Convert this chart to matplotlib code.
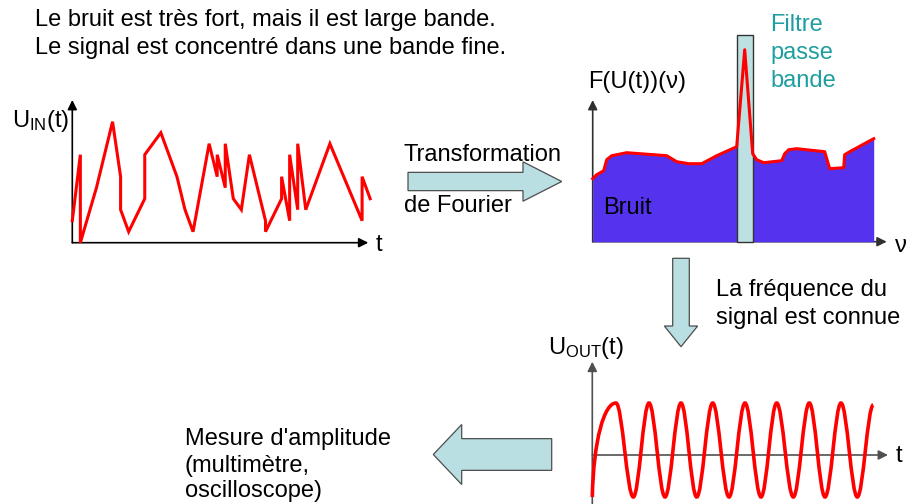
import matplotlib
matplotlib.use('Agg')
import matplotlib.pyplot as plt
from matplotlib.path import Path
from matplotlib.patches import PathPatch, Rectangle, FancyArrow

W, H = 907, 504

# noisy input signal U_IN(t) (time / amplitude in arbitrary units)
T_IN = [0, 1, 1, 3, 5, 6, 6, 7, 9, 9, 11, 13, 14, 15, 17, 18, 18, 19, 19, 20,
        21, 22, 24, 24, 26, 26, 27, 27, 28, 28, 29, 32, 36, 36, 37]
U_IN = [2, 8, 0, 5, 11, 6, 3, 1, 4, 8, 10, 6, 3, 1, 9, 6, 8, 5, 9, 4,
        3, 8, 2, 1, 4, 6, 2, 8, 3, 9, 3, 9, 2, 6, 4]

# spectrum F(U(t))(nu)
NU = [0, 0.4, 1.1, 1.4, 1.9, 3.4, 7.4, 8.4, 9.6, 10.9, 12.4, 14.4, 15.2, 16.0,
      16.4, 17.1, 18.9, 19.2, 19.6, 20.4, 23.2, 23.7, 25.1, 25.2, 25.7, 28.1]
SPEC = [6.3, 6.7, 7.1, 8.2, 8.6, 8.9, 8.6, 8.0, 7.8, 7.8, 8.6, 9.5, 19.2, 8.8,
        8.2, 7.9, 8.1, 8.8, 9.2, 9.3, 9.0, 7.3, 7.4, 8.7, 9.0, 10.3]
FILTER_BAND = (14.4, 16.0)
FILTER_TOP = 20.7

# filtered output U_OUT(t): successive extrema
T_OUT = [0, 2.37, 4.10, 5.67, 7.27, 8.87, 10.44, 12.04, 13.67, 15.27, 16.87,
         18.44, 20.10, 21.70, 23.27, 24.87, 26.50, 28.10]
U_OUT = [-4.2, 5.2, -4.2, 5.2, -4.2, 5.2, -4.2, 5.2, -4.2, 5.2, -4.2,
         5.2, -4.2, 5.2, -4.2, 5.2, -4.2, 5.0]

plt.rcParams['font.family'] = ['Liberation Sans', 'DejaVu Sans']
plt.rcParams['mathtext.fontset'] = 'custom'
plt.rcParams['mathtext.rm'] = 'Liberation Sans'
plt.rcParams['mathtext.it'] = 'Liberation Sans:italic'
FS = 17
RED = '#ff0000'
ARROW_FC = '#b9dfe2'
ARROW_EC = '#4d4d4d'

fig = plt.figure(figsize=(W / 100, H / 100), dpi=100)

# layout layer in pixel coordinates
bg = fig.add_axes([0, 0, 1, 1])
bg.set_xlim(0, W)
bg.set_ylim(H, 0)
bg.axis('off')


def px_axes(x0, yb, x1, yt):
    ax = fig.add_axes([x0 / W, 1 - yb / H, (x1 - x0) / W, (yb - yt) / H])
    ax.axis('off')
    return ax


def axis_arrow(x0, y0, x1, y1, color='black'):
    bg.annotate('', xy=(x1, y1), xytext=(x0, y0),
                arrowprops=dict(arrowstyle='-|>', lw=1.2, color=color,
                                mutation_scale=14, shrinkA=0, shrinkB=0))


def label(x, y, s, **kw):
    fig.text(x / W, 1 - y / H, s, fontsize=FS, ha='left', va='baseline', **kw)


def block_arrow(x, y, dx, dy, width, head_width, head_length):
    bg.add_patch(FancyArrow(x, y, dx, dy, width=width, head_width=head_width,
                            head_length=head_length, length_includes_head=True,
                            fc=ARROW_FC, ec=ARROW_EC, lw=0.9))


# --- top left: noisy signal ---
axis_arrow(72.3, 242.7, 72.3, 100)
axis_arrow(72.3, 242.7, 368.3, 242.7)
ax1 = px_axes(72.3, 242.7, 372.3, 100)
ax1.set_xlim(0, 300 / 8.05)
ax1.set_ylim(0, 142.7 / 11)
ax1.plot(T_IN, U_IN, color=RED, lw=2.2, solid_joinstyle='miter', clip_on=False)

# --- top right: spectrum + band-pass filter ---
axis_arrow(592.7, 241.7, 592.7, 100, color='#303030')
axis_arrow(592.7, 241.7, 886.7, 241.7, color='#303030')
ax2 = px_axes(592.7, 241.7, 892.7, 30)
ax2.set_xlim(0, 30)
ax2.set_ylim(0, 21.17)
ax2.fill_between(NU, 0, SPEC, color='#5533ee', lw=0, zorder=1)
ax2.add_patch(Rectangle((FILTER_BAND[0], 0), FILTER_BAND[1] - FILTER_BAND[0],
                        FILTER_TOP, fc='#bde0e3', ec='#333333', lw=1.0,
                        zorder=2, clip_on=False))
ax2.plot(NU, SPEC, color=RED, lw=2.2, zorder=3, clip_on=False)

# --- bottom right: filtered sine ---
axis_arrow(592.3, 504, 592.3, 361.7, color='#505050')
axis_arrow(592.3, 455, 888, 455, color='#505050')
ax3 = px_axes(592.3, 504, 892.3, 340)
ax3.set_xlim(0, 30)
ax3.set_ylim(-4.9, 11.5)
k = 0.3634
verts = [(T_OUT[0], U_OUT[0])]
codes = [Path.MOVETO]
for i in range(1, len(T_OUT)):
    t0, u0, t1, u1 = T_OUT[i - 1], U_OUT[i - 1], T_OUT[i], U_OUT[i]
    dx = t1 - t0
    if i == 1:
        c1 = (t0 + 0.05 * dx, u0 + 0.6 * (u1 - u0))
        c2 = (t1 - 0.5 * dx, u1)
    else:
        c1 = (t0 + k * dx, u0)
        c2 = (t1 - k * dx, u1)
    verts += [c1, c2, (t1, u1)]
    codes += [Path.CURVE4] * 3
ax3.add_patch(PathPatch(Path(verts, codes), fill=False, ec=RED, lw=2.6,
                        clip_on=False))

# --- block arrows ---
block_arrow(408, 181.5, 153.7, 0, 18.3, 39.4, 38.7)
block_arrow(681, 258.3, 0, 88.4, 16.6, 33.3, 20.7)
block_arrow(551.7, 454.5, -118.4, 0, 31.7, 60, 28.4)

# --- texts ---
label(35, 26, "Le bruit est très fort, mais il est large bande.")
label(35, 54, "Le signal est concentré dans une bande fine.")
label(12, 127, r'U$_{\mathrm{IN}}$(t)')
label(376, 251, 't')
label(404, 161, 'Transformation')
label(404, 212, 'de Fourier')
label(588, 88, 'F(U(t))(ν)')
label(770, 31, 'Filtre', color='#1e9e9e')
label(770, 59, 'passe', color='#1e9e9e')
label(770, 87, 'bande', color='#1e9e9e')
label(603, 214, 'Bruit')
label(895, 252, 'ν')
label(716, 296, 'La fréquence du')
label(716, 324, 'signal est connue')
label(548, 354, r'U$_{\mathrm{OUT}}$(t)')
label(896, 462, 't')
label(185, 445, "Mesure d'amplitude")
label(185, 472, '(multimètre,')
label(185, 497, 'oscilloscope)')

fig.savefig('out.png', dpi=100)
